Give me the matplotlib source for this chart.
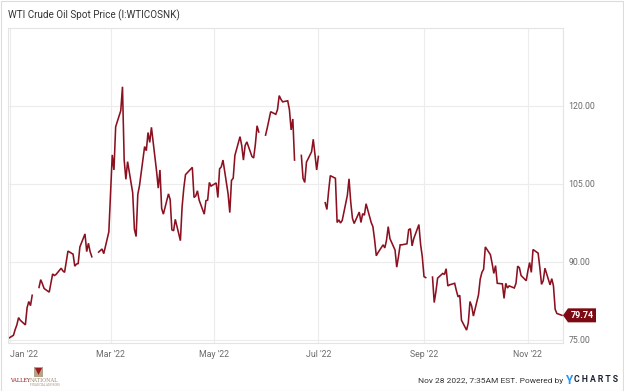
import numpy as np
import pandas as pd
import matplotlib
matplotlib.use("Agg")
import matplotlib.pyplot as plt
import matplotlib.dates as mdates
from matplotlib.patches import Rectangle, Polygon

plt.rcParams['font.family'] = ['Roboto', 'DejaVu Sans']

# WTI spot price, daily (NaN = market holiday -> gap in the line)
dates = [
    "2021-12-31", "2022-01-03", "2022-01-04", "2022-01-05", "2022-01-06", "2022-01-07",
    "2022-01-10", "2022-01-11", "2022-01-12", "2022-01-13", "2022-01-14", "2022-01-17",
    "2022-01-18", "2022-01-19", "2022-01-20", "2022-01-21", "2022-01-24", "2022-01-25",
    "2022-01-26", "2022-01-27", "2022-01-28", "2022-01-31", "2022-02-01", "2022-02-02",
    "2022-02-03", "2022-02-04", "2022-02-07", "2022-02-08", "2022-02-09", "2022-02-10",
    "2022-02-11", "2022-02-14", "2022-02-15", "2022-02-16", "2022-02-17", "2022-02-18",
    "2022-02-21", "2022-02-22", "2022-02-23", "2022-02-24", "2022-02-25", "2022-02-28",
    "2022-03-01", "2022-03-02", "2022-03-03", "2022-03-04", "2022-03-07", "2022-03-08",
    "2022-03-09", "2022-03-10", "2022-03-11", "2022-03-14", "2022-03-15", "2022-03-16",
    "2022-03-17", "2022-03-18", "2022-03-21", "2022-03-22", "2022-03-23", "2022-03-24",
    "2022-03-25", "2022-03-28", "2022-03-29", "2022-03-30", "2022-03-31", "2022-04-01",
    "2022-04-04", "2022-04-05", "2022-04-06", "2022-04-07", "2022-04-08", "2022-04-11",
    "2022-04-12", "2022-04-13", "2022-04-14", "2022-04-18", "2022-04-19", "2022-04-20",
    "2022-04-21", "2022-04-22", "2022-04-25", "2022-04-26", "2022-04-27", "2022-04-28",
    "2022-04-29", "2022-05-02", "2022-05-03", "2022-05-04", "2022-05-05", "2022-05-06",
    "2022-05-09", "2022-05-10", "2022-05-11", "2022-05-12", "2022-05-13", "2022-05-16",
    "2022-05-17", "2022-05-18", "2022-05-19", "2022-05-20", "2022-05-23", "2022-05-24",
    "2022-05-25", "2022-05-26", "2022-05-27", "2022-05-30", "2022-05-31", "2022-06-01",
    "2022-06-02", "2022-06-03", "2022-06-06", "2022-06-07", "2022-06-08", "2022-06-09",
    "2022-06-10", "2022-06-13", "2022-06-14", "2022-06-15", "2022-06-16", "2022-06-17",
    "2022-06-20", "2022-06-21", "2022-06-22", "2022-06-23", "2022-06-24", "2022-06-27",
    "2022-06-28", "2022-06-29", "2022-06-30", "2022-07-01", "2022-07-04", "2022-07-05",
    "2022-07-06", "2022-07-07", "2022-07-08", "2022-07-11", "2022-07-12", "2022-07-13",
    "2022-07-14", "2022-07-15", "2022-07-18", "2022-07-19", "2022-07-20", "2022-07-21",
    "2022-07-22", "2022-07-25", "2022-07-26", "2022-07-27", "2022-07-28", "2022-07-29",
    "2022-08-01", "2022-08-02", "2022-08-03", "2022-08-04", "2022-08-05", "2022-08-08",
    "2022-08-09", "2022-08-10", "2022-08-11", "2022-08-12", "2022-08-15", "2022-08-16",
    "2022-08-17", "2022-08-18", "2022-08-19", "2022-08-22", "2022-08-23", "2022-08-24",
    "2022-08-25", "2022-08-26", "2022-08-29", "2022-08-30", "2022-08-31", "2022-09-01",
    "2022-09-02", "2022-09-05", "2022-09-06", "2022-09-07", "2022-09-08", "2022-09-09",
    "2022-09-12", "2022-09-13", "2022-09-14", "2022-09-15", "2022-09-16", "2022-09-19",
    "2022-09-20", "2022-09-21", "2022-09-22", "2022-09-23", "2022-09-26", "2022-09-27",
    "2022-09-28", "2022-09-29", "2022-09-30", "2022-10-03", "2022-10-04", "2022-10-05",
    "2022-10-06", "2022-10-07", "2022-10-10", "2022-10-11", "2022-10-12", "2022-10-13",
    "2022-10-14", "2022-10-17", "2022-10-18", "2022-10-19", "2022-10-20", "2022-10-21",
    "2022-10-24", "2022-10-25", "2022-10-26", "2022-10-27", "2022-10-28", "2022-10-31",
    "2022-11-01", "2022-11-02", "2022-11-03", "2022-11-04", "2022-11-07", "2022-11-08",
    "2022-11-09", "2022-11-10", "2022-11-11", "2022-11-14", "2022-11-15", "2022-11-16",
    "2022-11-17", "2022-11-18", "2022-11-21",
]
nan = np.nan
prices = [
    75.3, 75.9, 77.0, 77.9, 79.3, 78.8,
    77.9, 81.2, 82.4, 81.6, 83.6, nan,
    85.1, 86.6, 85.8, 84.9, 84.2, 86.0,
    87.7, 87.4, 87.6, 88.8, 88.3, 88.0,
    90.1, 92.1, 91.5, 89.2, 89.6, 89.7,
    92.9, 95.4, 92.0, 93.6, 92.0, 91.0,
    nan, 91.9, 92.2, 92.5, 91.6, 95.8,
    103.4, 110.6, 107.7, 116.0, 119.1, 123.7,
    109.6, 105.9, 109.3, 103.3, 96.3, 94.9,
    103.0, 104.7, 112.2, 111.4, 114.9, 113.0,
    115.9, 107.5, 104.2, 107.7, 100.3, 99.2,
    103.1, 102.0, 96.2, 96.0, 98.2, 94.1,
    100.6, 104.2, 106.8, 108.2, 102.4, 102.7,
    103.7, 101.9, 99.2, 101.8, 101.9, 105.3,
    104.6, 105.2, 102.4, 107.9, 108.3, 109.6,
    103.1, 99.5, 105.7, 106.1, 110.5, 114.1,
    112.4, 109.6, 112.4, 113.1, 110.3, 110.0,
    112.6, 116.2, 115.0, nan, 114.4, 115.8,
    117.3, 118.9, 118.4, 119.3, 122.0, 121.3,
    120.8, 121.0, 119.3, 115.4, 117.5, 109.6,
    nan, 110.5, 106.1, 105.3, 109.2, 111.2,
    113.6, 110.6, 107.7, 110.3, nan, 101.4,
    100.1, 103.6, 106.6, 106.1, 97.6, 98.1,
    97.5, 98.0, 102.8, 106.0, 101.5, 98.4,
    97.4, 99.6, 97.6, 99.3, 99.0, 101.2,
    97.6, 96.8, 94.3, 91.2, 91.8, 93.3,
    92.7, 94.2, 96.8, 94.5, 92.3, 89.0,
    91.0, 93.3, 93.3, 93.5, 96.2, 96.4,
    93.1, 94.5, 97.2, 93.4, 91.0, 87.2,
    87.0, nan, 87.1, 82.2, 84.3, 86.9,
    87.8, 87.6, 88.7, 85.4, 85.6, 85.9,
    84.5, 83.3, 83.6, 78.8, 76.9, 78.3,
    82.4, 81.5, 79.6, 83.7, 86.7, 88.0,
    88.6, 92.9, 91.4, 89.7, 87.8, 89.3,
    85.9, 85.8, 83.0, 85.9, 85.0, 85.4,
    85.0, 85.9, 89.2, 88.9, 87.4, 86.4,
    88.3, 89.9, 88.0, 92.4, 91.7, 88.9,
    85.7, 86.4, 88.8, 85.6, 86.8, 85.4,
    80.9, 80.1, 79.74,
]

tick_dates = ["2022-01-01", "2022-03-01", "2022-05-01", "2022-07-01", "2022-09-01", "2022-11-01"]
tick_labels = ["Jan '22", "Mar '22", "May '22", "Jul '22", "Sep '22", "Nov '22"]
y_ticks = [75, 90, 105, 120]

line_color = '#8b1020'
grid_color = '#ececec'
text_gray = '#6b6b6b'

x = pd.to_datetime(dates)
y = np.array(prices, dtype=float)

W, H = 624, 391
fig = plt.figure(figsize=(W / 100, H / 100), dpi=100)
fig.patch.set_facecolor('white')

# outer frame
fig.add_artist(Rectangle((0.5 / W, 0.5 / H), 1 - 1.5 / W, 1 - 1.5 / H,
                         transform=fig.transFigure, fill=False, ec='#dcdcdc', lw=0.8))

ax = fig.add_axes([8 / W, 1 - 343 / H, (563 - 8) / W, (343 - 28) / H])
ax.plot(x, y, color=line_color, lw=1.15, solid_joinstyle='miter')

ax.set_xlim(mdates.date2num(pd.Timestamp("2021-12-31")) - 0.2,
            mdates.date2num(pd.Timestamp("2022-11-21")) + 0.6)
ax.set_ylim(74.42, 135.0)

ax.set_xticks(pd.to_datetime(tick_dates))
ax.set_xticklabels(tick_labels)
ax.set_yticks(y_ticks)
ax.set_yticklabels([f"{v:.2f}" for v in y_ticks])
ax.yaxis.tick_right()
ax.tick_params(axis='both', length=0, labelsize=6.3, colors=text_gray)
ax.tick_params(axis='x', pad=5)
ax.tick_params(axis='y', pad=4)
lbls = ax.get_xticklabels()
lbls[0].set_horizontalalignment('left')

ax.grid(True, color=grid_color, lw=0.8)
ax.set_axisbelow(True)
for s in ax.spines.values():
    s.set_color('#e4e4e4')
    s.set_linewidth(0.8)

# last value tag
last_val = y[-1]
ly = ax.transData.transform((0, last_val))[1]
fy = ly / H
tag = Polygon([(563 / W, fy), (568 / W, fy + 7 / H), (596 / W, fy + 7 / H),
               (596 / W, fy - 7 / H), (568 / W, fy - 7 / H)],
              closed=True, transform=fig.transFigure, fc='#7d0a12', ec='none')
fig.add_artist(tag)
fig.text(582 / W, fy, f"{last_val:.2f}", color='white', fontsize=6.5,
         fontweight='bold', ha='center', va='center')

# title
fig.text(8 / W, 1 - 15 / H, "WTI Crude Oil Spot Price (I:WTICOSNK)",
         fontsize=7.1, color='#333333', ha='left', va='center')

# footer
fig.text(563 / W, 1 - 381 / H, "Nov 28 2022, 7:35AM EST. Powered by",
         fontsize=6, color='#333333', ha='right', va='center')
fig.text(566 / W, 1 - 380 / H, "Y", fontsize=8.5, color='#2196f3',
         fontweight='bold', ha='left', va='center')
fig.text(574 / W, 1 - 380 / H, "C H A R T S", fontsize=6.2, color='#1a2330',
         fontweight='bold', ha='left', va='center')

# logo
fig.add_artist(Rectangle((34 / W, 1 - 377 / H), 9 / W, 10 / H,
                         transform=fig.transFigure, fc='#b5a48c', ec='none'))
fig.add_artist(Polygon([(35 / W, 1 - 368 / H), (42 / W, 1 - 368 / H), (38.5 / W, 1 - 375 / H)],
                       closed=True, transform=fig.transFigure, fc='#9b1b20', ec='none'))
fig.text(10 / W, 1 - 381 / H, "VALLEY", fontsize=3.6, color='#8b1a1a',
         ha='left', va='center', family='DejaVu Serif')
fig.text(30 / W, 1 - 381 / H, "NATIONAL", fontsize=3.6, color='#9e8a6c',
         ha='left', va='center', family='DejaVu Serif')
fig.text(30 / W, 1 - 385 / H, "FINANCIAL ADVISORS", fontsize=1.8, color='#9e8a6c',
         ha='left', va='center', family='DejaVu Serif')

fig.savefig("out.png", dpi=100, facecolor='white')
